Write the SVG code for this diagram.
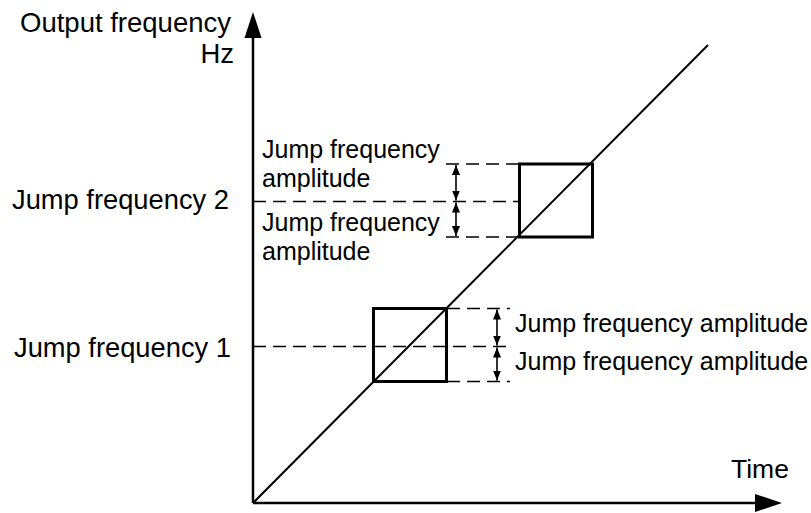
<svg xmlns="http://www.w3.org/2000/svg" width="811" height="513" viewBox="0 0 811 513">
<style>
.t{font-family:"Liberation Sans",Arial,sans-serif;fill:#000}
.ax{stroke:#000;stroke-width:2.5;fill:none}
.dash{stroke:#000;stroke-width:1.6;stroke-dasharray:13 7;fill:none}
.box{stroke:#000;stroke-width:3;fill:none}
.dim{stroke:#000;stroke-width:1.6;fill:none;marker-start:url(#ah);marker-end:url(#ah)}
</style>
<defs>
<marker id="ah" viewBox="0 0 10 10" refX="10" refY="5" markerWidth="10" markerHeight="10" markerUnits="userSpaceOnUse" orient="auto-start-reverse">
<path d="M0,1 L10,5 L0,9 Z" fill="#000"/>
</marker>
</defs>
<rect width="811" height="513" fill="#fff"/>
<g id="axes">
<line class="ax" x1="253" y1="503" x2="253" y2="36"/>
<polygon points="253,12 244.5,38 261.5,38" fill="#000"/>
<line class="ax" x1="253" y1="503" x2="758" y2="503"/>
<polygon points="782,503 755,494 755,512" fill="#000"/>
<text class="t" x="231" y="32" font-size="27.5" text-anchor="end">Output frequency</text>
<text class="t" x="234" y="63" font-size="27.5" text-anchor="end">Hz</text>
<text class="t" x="731" y="478" font-size="26.5">Time</text>
</g>
<g id="ramp">
<line x1="253" y1="503" x2="708" y2="45" stroke="#000" stroke-width="2"/>
</g>
<g id="jump2">
<rect class="box" x="519.5" y="164" width="73" height="73"/>
<text class="t" x="12" y="209" font-size="27.3">Jump frequency 2</text>
<text class="t" x="262" y="158" font-size="25">Jump frequency</text>
<text class="t" x="262" y="187" font-size="25">amplitude</text>
<text class="t" x="262" y="231" font-size="25">Jump frequency</text>
<text class="t" x="262" y="260" font-size="25">amplitude</text>
</g>
<g id="jump1">
<rect class="box" x="373.5" y="308.5" width="73" height="73"/>
<text class="t" x="14" y="357" font-size="27.3">Jump frequency 1</text>
<text class="t" x="515" y="332" font-size="25">Jump frequency amplitude</text>
<text class="t" x="515" y="370" font-size="25">Jump frequency amplitude</text>
</g>
<g id="connectors">
<line class="dash" x1="253" y1="201.5" x2="519" y2="201.5"/>
<line class="dash" x1="446" y1="164" x2="519" y2="164"/>
<line class="dash" x1="446" y1="237" x2="519" y2="237"/>
<line class="dim" x1="456" y1="165" x2="456" y2="200.5"/>
<line class="dim" x1="456" y1="202.5" x2="456" y2="236"/>
<line class="dash" x1="253" y1="346.5" x2="510" y2="346.5"/>
<line class="dash" x1="447" y1="308.5" x2="510" y2="308.5"/>
<line class="dash" x1="447" y1="381.5" x2="510" y2="381.5"/>
<line class="dim" x1="497" y1="309.5" x2="497" y2="345.5"/>
<line class="dim" x1="497" y1="347.5" x2="497" y2="380.5"/>
</g>
</svg>
